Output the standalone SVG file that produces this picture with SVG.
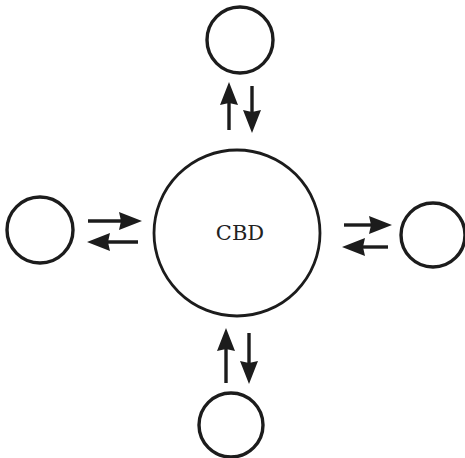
<svg xmlns="http://www.w3.org/2000/svg" width="465" height="458" viewBox="0 0 465 458">
  <style>
    .ring { fill: none; stroke: #1c1c1c; stroke-width: 3.4; }
    .hub { fill: none; stroke: #1c1c1c; stroke-width: 2.8; }
    .flow { stroke: #1c1c1c; stroke-width: 3.4; fill: none; marker-end: url(#head); }
    .label { font-family: "DejaVu Serif", "Liberation Serif", serif; font-size: 21px; fill: #222; text-anchor: middle; }
  </style>
  <defs>
    <marker id="head" markerUnits="userSpaceOnUse" markerWidth="26" markerHeight="20" refX="5" refY="9" orient="auto">
      <path d="M0,0 L23,9 L0,18 L2,9 Z" fill="#1c1c1c"/>
    </marker>
  </defs>
  <rect width="465" height="458" fill="#ffffff"/>

  <!-- central business district -->
  <g id="cbd">
    <circle class="hub" cx="237" cy="233" r="83"/>
    <text class="label" x="240" y="240">CBD</text>
  </g>

  <!-- outlying centres -->
  <g id="north"><circle class="ring" cx="240" cy="40" r="33"/></g>
  <g id="west"><circle class="ring" cx="40" cy="230" r="33"/></g>
  <g id="east"><circle class="ring" cx="433" cy="235" r="32"/></g>
  <g id="south"><circle class="ring" cx="231" cy="425" r="32"/></g>

  <!-- two-way flows between each centre and the CBD -->
  <g id="connectors">
    <line class="flow" x1="229" y1="130" x2="229" y2="100"/>
    <line class="flow" x1="252" y1="86" x2="252" y2="115"/>
    <line class="flow" x1="88" y1="221" x2="124" y2="221"/>
    <line class="flow" x1="138" y1="242" x2="105" y2="242"/>
    <line class="flow" x1="344" y1="225" x2="374" y2="225"/>
    <line class="flow" x1="388" y1="247" x2="360" y2="247"/>
    <line class="flow" x1="226" y1="383" x2="226" y2="346"/>
    <line class="flow" x1="249" y1="333" x2="249" y2="366"/>
  </g>
</svg>
